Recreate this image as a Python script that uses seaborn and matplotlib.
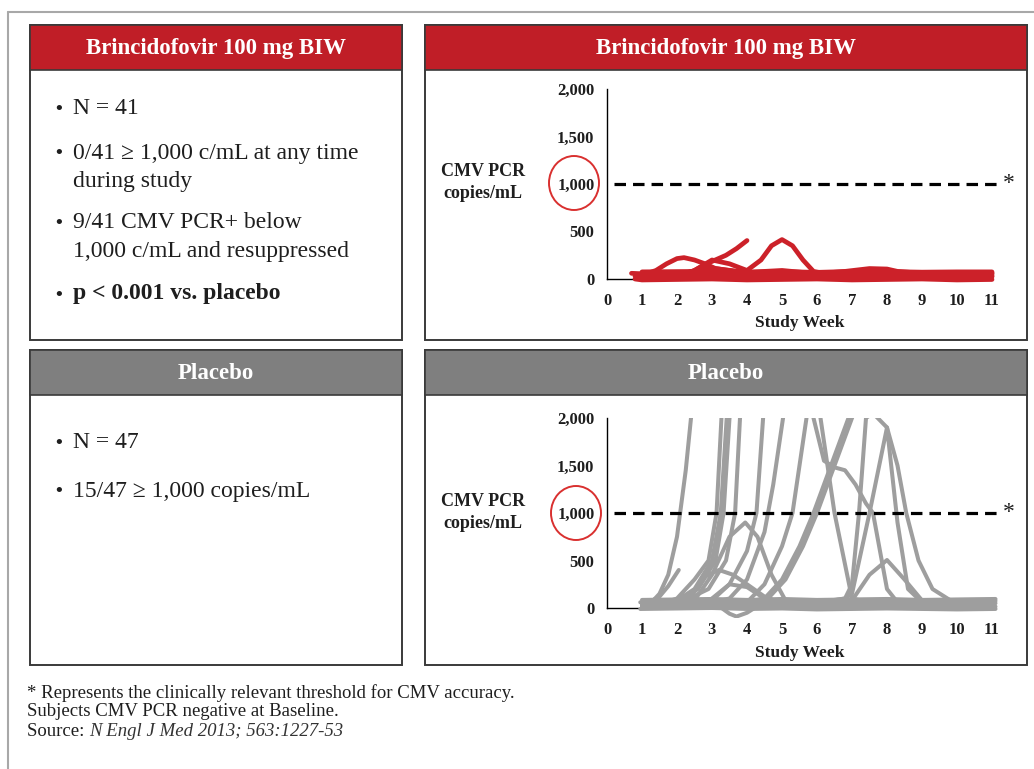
import matplotlib
matplotlib.use("Agg")
import matplotlib.pyplot as plt
import pandas as pd
import seaborn as sns
from matplotlib.patches import Rectangle, Ellipse

# ---------------- data ----------------
week_ticks = list(range(0, 12))
y_ticks = [0, 500, 1000, 1500, 2000]
y_tick_labels = ["0", "500", "1,000", "1,500", "2,000"]
threshold = 1000

# Brincidofovir subjects: (study week, CMV PCR copies/mL)
red_s01 = [(0.7, 60), (1, 55), (2, 62), (3, 50), (4, 58), (5, 52), (6, 60), (7, 55), (8, 50), (9, 58), (10, 55), (11, 60)]
red_s02 = [(0.8, 30), (1, 25), (2, 20), (3, 35), (4, 30), (5, 25), (6, 20), (7, 30), (8, 25), (9, 20), (10, 30), (11, 25)]
red_s03 = [(0.8, 0), (1, -10), (2, -5), (3, 0), (4, -10), (5, -5), (6, 0), (7, -10), (8, -5), (9, 0), (10, -10), (11, -5)]
red_s04 = [(1, 75), (2, 78), (3, 80), (4, 72), (5, 78), (6, 70), (7, 80), (8, 78), (9, 72), (10, 75), (11, 75)]
red_s05 = [(1, 40), (1.4, 90), (1.7, 160), (2.0, 215), (2.2, 225), (2.5, 200), (2.8, 160), (3.1, 110), (3.5, 90), (4, 60), (5, 45), (6, 40), (7, 45), (8, 40), (9, 45), (10, 40), (11, 45)]
red_s06 = [(1, 20), (2, 30), (2.5, 90), (2.8, 150), (3.0, 185), (3.4, 250), (3.7, 320), (4.0, 405)]
red_s07 = [(1, 15), (2, 10), (2.5, 90), (3.0, 200), (3.5, 160), (4, 90), (4.4, 200), (4.7, 350), (5, 415), (5.3, 350), (5.6, 200), (5.9, 80), (6.5, 40), (7, 30), (8, 35), (9, 30), (10, 35), (11, 30)]
red_s08 = [(1, 45), (2, 50), (2.6, 90), (3, 115), (3.4, 95), (4, 70), (5, 90), (6, 55), (6.8, 80), (7.5, 110), (8, 105), (8.3, 80), (9, 60), (10, 55), (11, 60)]

# Placebo subjects
gray_s01 = [(1, 30), (1.25, 50), (1.5, 150), (1.75, 350), (2, 750), (2.25, 1450), (2.4, 2000), (2.5, 2400)]
gray_s02 = [(1, 20), (1.5, 120), (1.75, 230), (2.05, 400)]
gray_s03 = [(1, 40), (1.5, 40), (2, 100), (2.5, 300), (2.9, 500), (3.13, 1000), (3.27, 2000), (3.4, 2500)]
gray_s04 = [(1, 20), (1.5, 30), (2, 80), (2.5, 200), (3, 500), (3.25, 1000), (3.42, 2000), (3.5, 2400)]
gray_s05 = [(1, 50), (2, 50), (2.6, 200), (3.1, 500), (3.33, 1000), (3.5, 2000), (3.6, 2500)]
gray_s06 = [(1, 30), (2, 40), (2.9, 200), (3.4, 500), (3.66, 1000), (3.8, 2000), (3.9, 2400)]
gray_s07 = [(1, 60), (2, 50), (3, 80), (3.5, 250), (4, 600), (4.27, 1000), (4.46, 2000), (4.55, 2400)]
gray_s08 = [(1, 20), (2, 30), (3, 60), (3.5, 100), (4, 300), (4.5, 800), (4.75, 1300), (5.03, 2000), (5.1, 2300)]
gray_s09 = [(1, 40), (2, 50), (3, 40), (4, 60), (4.5, 250), (5, 650), (5.3, 1000), (5.7, 2000), (5.8, 2300)]
gray_s10 = [(1, 10), (2, 20), (3, 30), (4, 60), (4.5, 100), (5, 300), (5.5, 650), (5.9, 1000), (6.5, 1600), (6.9, 2000), (7.0, 2100)]
gray_s11 = [(1, 50), (2, 40), (3, 50), (4, 70), (4.6, 100), (5.1, 300), (5.6, 650), (6.0, 1000), (6.6, 1600), (7.0, 2000), (7.1, 2100)]
gray_s12 = [(5.8, 2200), (5.9, 2000), (6.2, 1550), (6.5, 1480), (6.8, 1450), (7.1, 1300), (7.4, 1100), (7.6, 1000), (7.8, 600), (8, 200), (8.3, 60), (9, 40), (10, 50), (11, 45)]
gray_s13 = [(6.0, 2300), (6.1, 2000), (6.5, 1000), (7, 100), (7.5, 60), (8, 50), (9, 50), (10, 40), (11, 50)]
gray_s14 = [(1, 35), (3, 40), (5, 60), (6, 60), (6.8, 100), (7, 250), (7.2, 1000), (7.4, 2000), (7.6, 2050), (8, 1900), (8.3, 1500), (8.55, 1000), (8.9, 500), (9.3, 200), (9.9, 60), (11, 50)]
gray_s15 = [(1, 20), (2, 30), (2.5, 80), (3, 350), (3.5, 750), (3.95, 900), (4.3, 750), (4.7, 350), (5.1, 80), (6, 40), (7, 50), (8, 40), (9, 30), (10, 40), (11, 30)]
gray_s16 = [(1, 40), (2, 50), (2.3, 80), (2.8, 330), (3.2, 400), (3.6, 350), (4, 250), (4.5, 120), (5, 50), (6, 50), (7, 40), (8, 60), (9, 50), (10, 45), (11, 50)]
gray_s17 = [(1, 30), (3, 60), (4, 40), (5, 50), (6, 40), (7, 80), (7.5, 350), (8, 505), (8.5, 300), (9, 80), (10, 50), (11, 60)]
gray_s18 = [(1, 25), (2, 20), (3.2, 20), (3.5, -60), (3.7, -90), (4, -50), (4.3, 20), (5, 30), (6, 20), (7, 30), (8, 25), (9, 30), (10, 20), (11, 30)]
gray_s19 = [(0.95, 60), (2, 70), (3, 75), (4, 80), (5, 70), (6, 65), (7, 75), (8, 70), (9, 65), (10, 70), (11.1, 75)]
gray_s20 = [(0.95, -10), (2, -5), (3, 0), (4, -10), (5, -5), (6, -15), (7, -10), (8, -5), (9, -10), (10, -15), (11.1, -10)]
gray_s21 = [(1, 40), (2, 45), (3, 50), (4, 45), (5, 40), (6, 50), (7, 45), (8, 40), (9, 50), (10, 45), (11.1, 50)]
gray_s22 = [(1, 15), (2, 10), (3, 20), (4, 25), (5, 15), (6, 10), (7, 20), (8, 25), (9, 15), (10, 20), (11.1, 15)]
gray_s23 = [(3, 100), (3.5, 250), (4, 220), (4.5, 100), (5, 60), (6, 55), (7, 60)]
gray_s24 = [(6, 50), (6.8, 100), (7, 150), (7.5, 1000), (8, 1900), (8.3, 900), (8.6, 200), (9, 60), (10, 55), (11, 60)]
gray_s25 = [(1, 85), (2, 90), (3, 95), (4, 85), (5, 95), (6, 85), (7, 90), (8, 95), (9, 85), (10, 90), (11.1, 95)]

red_series = [red_s01, red_s02, red_s03, red_s04, red_s05, red_s06, red_s07, red_s08]
gray_series = [gray_s01, gray_s02, gray_s03, gray_s04, gray_s05, gray_s06, gray_s07, gray_s08,
               gray_s09, gray_s10, gray_s11, gray_s12, gray_s13, gray_s14, gray_s15, gray_s16,
               gray_s17, gray_s18, gray_s19, gray_s20, gray_s21, gray_s22, gray_s23, gray_s24,
               gray_s25]

header_top = "Brincidofovir 100 mg BIW"
header_bottom = "Placebo"
# (text lines, bold)
bullets_top = [(["N = 41"], False),
               (["0/41 \u2265 1,000 c/mL at any time", "during study"], False),
               (["9/41 CMV PCR+ below", "1,000 c/mL and resuppressed"], False),
               (["p < 0.001 vs. placebo"], True)]
bullets_bottom = [(["N = 47"], False), (["15/47 \u2265 1,000 copies/mL"], False)]
footnotes = ["* Represents the clinically relevant threshold for CMV accuracy.",
             "Subjects CMV PCR negative at Baseline."]
source_label = "Source: "
source_ref = "N Engl J Med 2013; 563:1227-53"


def to_frame(series_list):
    rows = []
    for i, s in enumerate(series_list):
        for w, v in s:
            rows.append({"subject": i, "week": w, "value": v})
    return pd.DataFrame(rows)


red_df = to_frame(red_series)
gray_df = to_frame(gray_series)

# ---------------- style ----------------
sns.set_style("white")
SERIF = ["Liberation Serif", "DejaVu Serif"]
plt.rcParams["font.family"] = SERIF

W, H = 1034, 769
fig = plt.figure(figsize=(W / 100, H / 100), dpi=100)
fig.patch.set_facecolor("white")

RED = "#c01e27"
LINE_RED = "#cc2129"
HDR_GRAY = "#7f7f7f"
LINE_GRAY = "#9e9e9e"
TXT = "#1e1e1e"


def fx(x):
    return x / W


def fy(y):
    return 1 - y / H


def rect(x0, y0, x1, y1, **kw):
    r = Rectangle((fx(x0), fy(y1)), fx(x1) - fx(x0), fy(y0) - fy(y1), transform=fig.transFigure, **kw)
    fig.add_artist(r)


# outer frame (top and left)
fig.add_artist(plt.Line2D([fx(8), fx(1034)], [fy(12), fy(12)], transform=fig.transFigure, color="#a8a8a8", lw=1.5))
fig.add_artist(plt.Line2D([fx(8), fx(8)], [fy(12), fy(769)], transform=fig.transFigure, color="#a8a8a8", lw=1.5))

# boxes
for (x0, x1) in [(30, 402), (425, 1027)]:
    for (y0, yh, y1, col, title) in [(25, 70, 340, RED, header_top), (350, 395, 665, HDR_GRAY, header_bottom)]:
        rect(x0, y0, x1, y1, facecolor="white", edgecolor="#3a3a3a", lw=1.4, zorder=-2)
        rect(x0, y0, x1, yh, facecolor=col, edgecolor="#3a3a3a", lw=1.2, zorder=-1)
        fig.text(fx((x0 + x1) / 2), fy((y0 + yh) / 2 + 1), title, color="white", fontsize=16.5,
                 fontweight="bold", ha="center", va="center", family=SERIF)


# bullet texts
def bullets(items, ys, line_gap=28):
    for (lines, bold), y in zip(items, ys):
        fig.text(fx(55), fy(y + 1), "\u2022", fontsize=14, color=TXT, va="center", ha="left", family=SERIF,
                 fontweight="bold")
        for k, line in enumerate(lines):
            fig.text(fx(73), fy(y + k * line_gap), line, fontsize=17, color=TXT, va="center", ha="left",
                     family=SERIF, fontweight="bold" if bold else "normal")


bullets(bullets_top, [108, 153, 223, 294])
bullets(bullets_bottom, [443, 491])

# footnotes
FOOT = 13.5
fig.text(fx(27), fy(693), footnotes[0], fontsize=FOOT, color=TXT, va="center", ha="left", family=SERIF)
fig.text(fx(27), fy(712), footnotes[1], fontsize=FOOT, color=TXT, va="center", ha="left", family=SERIF)
src = fig.text(fx(27), fy(731), source_label, fontsize=FOOT, color=TXT, va="center", ha="left", family=SERIF)
fig.canvas.draw()
bb = src.get_window_extent()
fig.text(bb.x1 / W, fy(731), source_ref, fontsize=FOOT, color="#333333", va="center", ha="left",
         family=SERIF, style="italic")


# ---------------- charts ----------------
PX_W = 35.0          # pixels per week
PX_Y = 190.0 / 2000  # pixels per copy/mL
YMIN = -110
XMAX = 11.6


def make_axes(y_zero_px):
    bottom_px = y_zero_px - YMIN * PX_Y
    top_px = y_zero_px - 2000 * PX_Y
    ax = fig.add_axes([fx(607), fy(bottom_px), XMAX * PX_W / W, (bottom_px - top_px) / H])
    ax.set_facecolor("none")
    ax.set_zorder(2)
    return ax


def style_axes(ax, circle_center):
    ax.set_xlim(0, XMAX)
    ax.set_ylim(YMIN, 2000)
    for s in ["top", "right"]:
        ax.spines[s].set_visible(False)
    ax.spines["left"].set_bounds(0, 2000)
    ax.spines["bottom"].set_position(("data", 0))
    ax.spines["bottom"].set_bounds(0, 11)
    for s in ["left", "bottom"]:
        ax.spines[s].set_color("black")
        ax.spines[s].set_linewidth(1.0)
        ax.spines[s].set_zorder(1)
    ax.set_xticks(week_ticks)
    ax.set_xticklabels([str(w) for w in week_ticks])
    ax.set_yticks(y_ticks)
    ax.set_yticklabels(y_tick_labels)
    ax.tick_params(axis="both", direction="out", length=4, width=1, color="black", labelsize=12,
                   labelcolor=TXT)
    ax.tick_params(axis="x", pad=6)
    ax.tick_params(axis="y", pad=5)
    for lab in ax.get_xticklabels() + ax.get_yticklabels():
        lab.set_fontweight("bold")
    ax.set_xlabel("")
    ax.set_ylabel("")
    # threshold line
    ax.plot([0.2, 11.25], [threshold, threshold], color="black", lw=2.3, dashes=(3.6, 2.2), zorder=5)
    ax.text(11.47, threshold, "*", fontsize=17, ha="center", va="center", color=TXT, family=SERIF,
            clip_on=False)
    # red circle round the 1,000 label
    cx, cy = circle_center
    fig.add_artist(Ellipse((fx(cx), fy(cy)), 50 / W, 54 / H, transform=fig.transFigure,
                           facecolor="none", edgecolor="#d9302f", lw=1.4, zorder=3))


# top chart
ax1 = make_axes(279)
sns.lineplot(data=red_df, x="week", y="value", units="subject", estimator=None, color=LINE_RED,
             lw=3.4, ax=ax1, legend=False, solid_joinstyle="round", zorder=3)
style_axes(ax1, (574, 183))
fig.text(fx(483), fy(172), "CMV PCR", fontsize=13, fontweight="bold", ha="center", va="center", color=TXT)
fig.text(fx(483), fy(193), "copies/mL", fontsize=13, fontweight="bold", ha="center", va="center", color=TXT)
fig.text(fx(800), fy(323), "Study Week", fontsize=12.5, fontweight="bold", ha="center", va="center", color=TXT)

# bottom chart
ax2 = make_axes(608)
sns.lineplot(data=gray_df, x="week", y="value", units="subject", estimator=None, color=LINE_GRAY,
             lw=2.9, ax=ax2, legend=False, solid_joinstyle="round", zorder=3)
style_axes(ax2, (576, 513))
fig.text(fx(483), fy(502), "CMV PCR", fontsize=13, fontweight="bold", ha="center", va="center", color=TXT)
fig.text(fx(483), fy(523), "copies/mL", fontsize=13, fontweight="bold", ha="center", va="center", color=TXT)
fig.text(fx(800), fy(653), "Study Week", fontsize=12.5, fontweight="bold", ha="center", va="center", color=TXT)

fig.savefig("out.png", dpi=100)
